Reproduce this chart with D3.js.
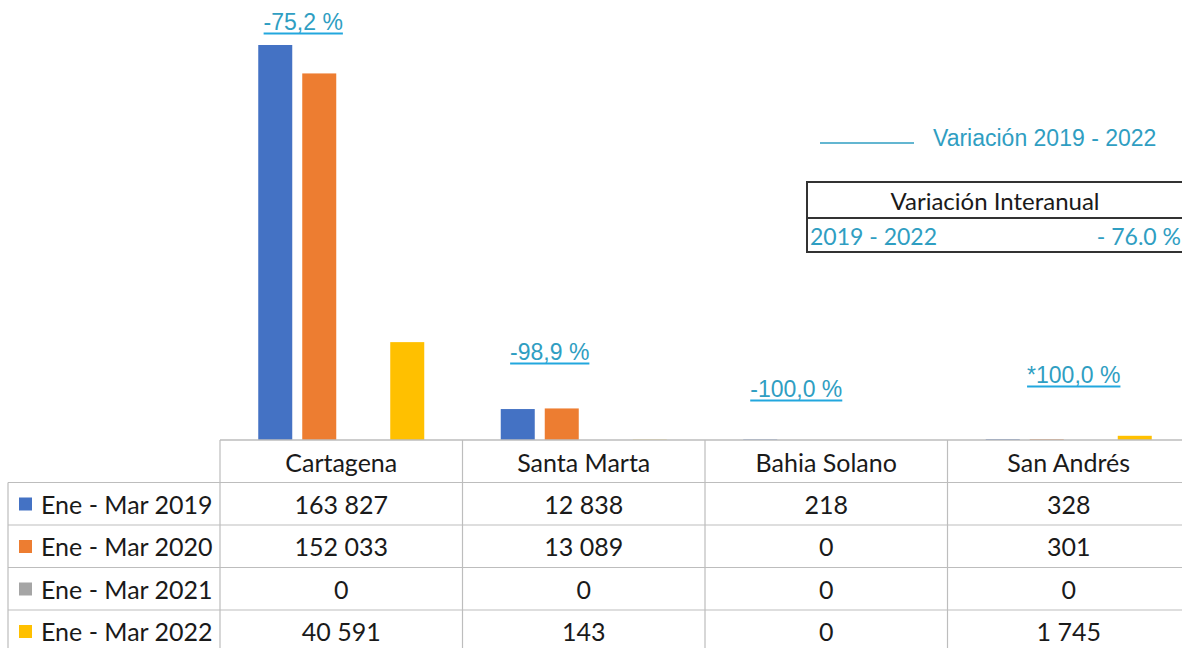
<!DOCTYPE html>
<html>
<head>
<meta charset="utf-8">
<script src="https://cdn.jsdelivr.net/npm/d3@7.9.0/dist/d3.min.js"></script>
<style>
  body { margin: 0; background: #fff; }
  svg { display: block; }
  .cell { font-family: Lato, "Open Sans", sans-serif; font-size: 25px; fill: #1a1a1a; }
  .pct { font-family: "Liberation Sans", Arial, sans-serif; font-size: 23px; fill: #2f9ec2; }
</style>
</head>
<body>
<svg id="chart" width="1182" height="648"></svg>
<script>
// data
const cities = ['Cartagena', 'Santa Marta', 'Bahia Solano', 'San Andrés'];
const periods = ['Ene - Mar 2019', 'Ene - Mar 2020', 'Ene - Mar 2021', 'Ene - Mar 2022'];
const v2019 = [163827, 12838, 218, 328];
const v2020 = [152033, 13089, 0, 301];
const v2021 = [0, 0, 0, 0];
const v2022 = [40591, 143, 0, 1745];
const variations = ['-75,2 %', '-98,9 %', '-100,0 %', '*100,0 %'];
const totalVarLabel = '2019 - 2022';
const totalVar = '- 76.0 %';

const colors = ['#4472c4', '#ed7d31', '#a5a5a5', '#ffc000'];
const series = [v2019, v2020, v2021, v2022];

// label placement (x offset from column centre, baseline y)
const labelPos = [[-38, 30], [-34, 360], [-30, 397], [5, 383]];

const svg = d3.select('#chart');
const axisY = 440;
const rowH = 42.5;

let x = d3.scaleBand().domain(cities).range([220, 1190]);
let xInner = d3.scaleBand().domain(periods).range([0, 166]).paddingInner(10 / 44);
let y = d3.scaleLinear().domain([0, 180000]).range([axisY, 6]);

// bars
periods.forEach((p, i) => {
  svg.append('g').selectAll('rect')
    .data(series[i])
    .join('rect')
    .attr('x', (d, j) => x(cities[j]) + x.bandwidth() / 2 - 83 + xInner(p))
    .attr('y', d => y(d))
    .attr('width', xInner.bandwidth())
    .attr('height', d => axisY - y(d))
    .attr('fill', colors[i]);
});

// variation labels (underlined)
variations.forEach((t, j) => {
  let cx = x(cities[j]) + x.bandwidth() / 2 + labelPos[j][0];
  let txt = svg.append('text').attr('class', 'pct')
    .attr('x', cx).attr('y', labelPos[j][1])
    .attr('text-anchor', 'middle').text(t);
  let w = txt.node().getComputedTextLength();
  svg.append('line')
    .attr('x1', cx - w / 2).attr('x2', cx + w / 2)
    .attr('y1', labelPos[j][1] + 3.5).attr('y2', labelPos[j][1] + 3.5)
    .attr('stroke', '#22a7de').attr('stroke-width', 2);
});

// data table
let rowY = d3.scaleLinear().domain([0, 1]).range([axisY, axisY + rowH]);
const grid = '#bdbdbd';
// axis line / header top
svg.append('line').attr('x1', 220).attr('x2', 1182).attr('y1', axisY).attr('y2', axisY)
  .attr('stroke', grid).attr('stroke-width', 1.5);
// row lines
d3.range(1, 5).forEach(r => {
  svg.append('line').attr('x1', 8).attr('x2', 1182)
    .attr('y1', rowY(r)).attr('y2', rowY(r))
    .attr('stroke', grid).attr('stroke-width', 1.2);
});
// vertical lines
cities.forEach(c => {
  svg.append('line').attr('x1', x(c)).attr('x2', x(c))
    .attr('y1', axisY).attr('y2', 648).attr('stroke', grid).attr('stroke-width', 1.2);
});
svg.append('line').attr('x1', 8).attr('x2', 8)
  .attr('y1', rowY(1)).attr('y2', 648).attr('stroke', grid).attr('stroke-width', 1.2);

// header
cities.forEach(c => {
  svg.append('text').attr('class', 'cell')
    .attr('x', x(c) + x.bandwidth() / 2).attr('y', rowY(0) + 32)
    .attr('text-anchor', 'middle').text(c);
});

const fmt = v => d3.format(',')(v).replace(/,/g, ' ');
periods.forEach((p, i) => {
  let ry = rowY(i + 1);
  svg.append('rect').attr('x', 19).attr('y', ry + 15).attr('width', 13).attr('height', 13)
    .attr('fill', colors[i]);
  svg.append('text').attr('class', 'cell').attr('x', 41).attr('y', ry + 31).text(p);
  series[i].forEach((v, j) => {
    svg.append('text').attr('class', 'cell')
      .attr('x', x(cities[j]) + x.bandwidth() / 2).attr('y', ry + 31)
      .attr('text-anchor', 'middle').text(fmt(v));
  });
});

// legend for the variation labels
svg.append('line').attr('x1', 820).attr('x2', 914).attr('y1', 143).attr('y2', 143)
  .attr('stroke', '#2f9ec2').attr('stroke-width', 1.5);
svg.append('text').attr('class', 'pct').attr('x', 933).attr('y', 146)
  .text('Variación 2019 - 2022');

// summary box
svg.append('rect').attr('x', 807).attr('y', 182).attr('width', 380).attr('height', 70)
  .attr('fill', 'none').attr('stroke', '#333').attr('stroke-width', 2);
svg.append('line').attr('x1', 807).attr('x2', 1182).attr('y1', 218).attr('y2', 218)
  .attr('stroke', '#333').attr('stroke-width', 2);
svg.append('text').attr('class', 'cell').attr('x', 995).attr('y', 210)
  .attr('text-anchor', 'middle').style('font-size', '24px').text('Variación Interanual');
svg.append('text').attr('class', 'cell').attr('x', 810).attr('y', 245)
  .style('font-size', '23px').style('fill', '#2f9ec2').text(totalVarLabel);
svg.append('text').attr('class', 'cell').attr('x', 1181).attr('y', 245)
  .attr('text-anchor', 'end')
  .style('font-size', '23px').style('fill', '#2f9ec2').text(totalVar);
</script>
</body>
</html>
